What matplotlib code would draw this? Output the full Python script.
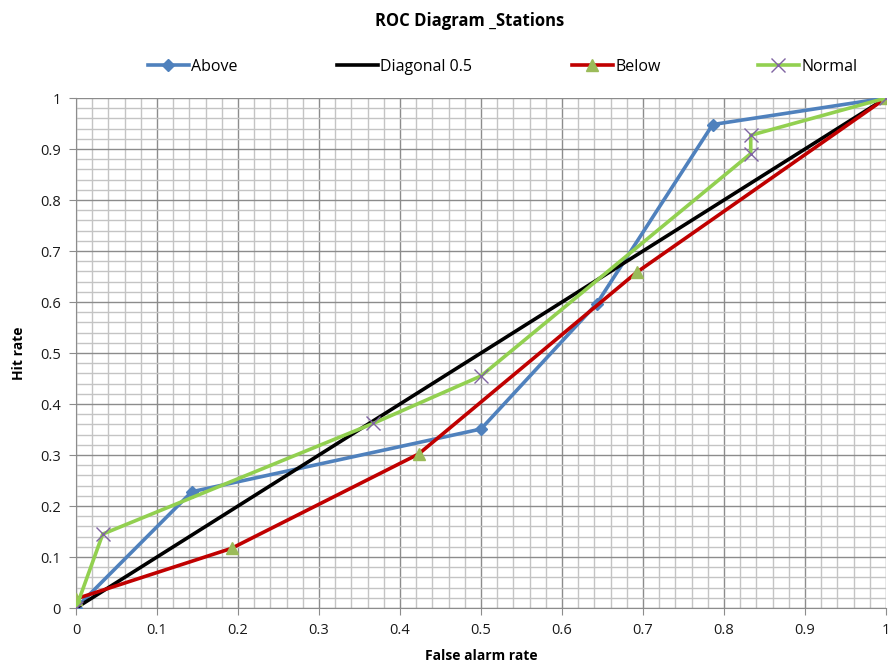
import matplotlib
matplotlib.use("Agg")
import matplotlib.pyplot as plt
from matplotlib.ticker import MultipleLocator, FuncFormatter

above_x = [0, 0.143, 0.5, 0.643, 0.786, 1]
above_y = [0, 0.228, 0.351, 0.597, 0.948, 1]
diag_x = [0, 1]
diag_y = [0, 1]
below_x = [0, 0.192, 0.423, 0.692, 1]
below_y = [0.018, 0.117, 0.302, 0.658, 1]
normal_x = [0, 0.033, 0.367, 0.5, 0.833, 0.833, 1]
normal_y = [0, 0.145, 0.362, 0.455, 0.891, 0.927, 1]
ticks = [0, 0.1, 0.2, 0.3, 0.4, 0.5, 0.6, 0.7, 0.8, 0.9, 1]

plt.rcParams['font.family'] = ['Open Sans', 'DejaVu Sans']

fig = plt.figure(figsize=(8.91, 6.70), dpi=100)
ax = fig.add_axes([0.0853, 0.0925, 0.9091, 0.7612])

l1, = ax.plot(above_x, above_y, color='#4f81bd', lw=2.6, marker='D', ms=6.5,
        mfc='#4f81bd', mec='#4f81bd', label='Above', zorder=3)
l2, = ax.plot(diag_x, diag_y, color='black', lw=2.6, label='Diagonal 0.5', zorder=3)
l3, = ax.plot(below_x, below_y, color='#c00000', lw=2.6, marker='^', ms=9,
        mfc='#9bbb59', mec='#9bbb59', label='Below', zorder=3)
l4, = ax.plot(normal_x, normal_y, color='#92d050', lw=2.6, marker='x', ms=10, mew=1.0,
        mec='#8064a2', label='Normal', zorder=3)

ax.set_xlim(0, 1)
ax.set_ylim(0, 1)
ax.set_xticks(ticks)
ax.set_yticks(ticks)
ax.xaxis.set_minor_locator(MultipleLocator(0.02))
ax.yaxis.set_minor_locator(MultipleLocator(0.02))
fmt = FuncFormatter(lambda v, p: ('%g' % round(v, 2)))
ax.xaxis.set_major_formatter(fmt)
ax.yaxis.set_major_formatter(fmt)
ax.grid(which='major', color='#8c8c8c', lw=1.0, zorder=0)
ax.grid(which='minor', color='#c4c4c4', lw=1.0, zorder=0)
ax.set_axisbelow(True)
for s in ['top', 'right']:
    ax.spines[s].set_visible(False)
for s in ['left', 'bottom']:
    ax.spines[s].set_color('#8c8c8c')
ax.tick_params(which='major', length=5, color='#8c8c8c', labelsize=10.5, labelcolor='#1a1a1a', pad=6)
ax.tick_params(which='minor', length=0)

ax.set_xlabel('False alarm rate', fontsize=10, fontweight='bold', labelpad=8)
ax.set_ylabel('Hit rate', fontsize=10, fontweight='bold', labelpad=10)
fig.text(0.527, 0.968, 'ROC Diagram _Stations', ha='center', va='center',
         fontsize=12, fontweight='bold')

starts = [148, 337, 572, 758]
for h, xs in zip([l1, l2, l3, l4], starts):
    fig.legend(handles=[h], loc='center left', bbox_to_anchor=(xs / 891, 1 - 67 / 670),
               frameon=False, fontsize=11.5, handlelength=2.55, handletextpad=0.15,
               borderpad=0, borderaxespad=0)

fig.savefig('out.png', dpi=100)
